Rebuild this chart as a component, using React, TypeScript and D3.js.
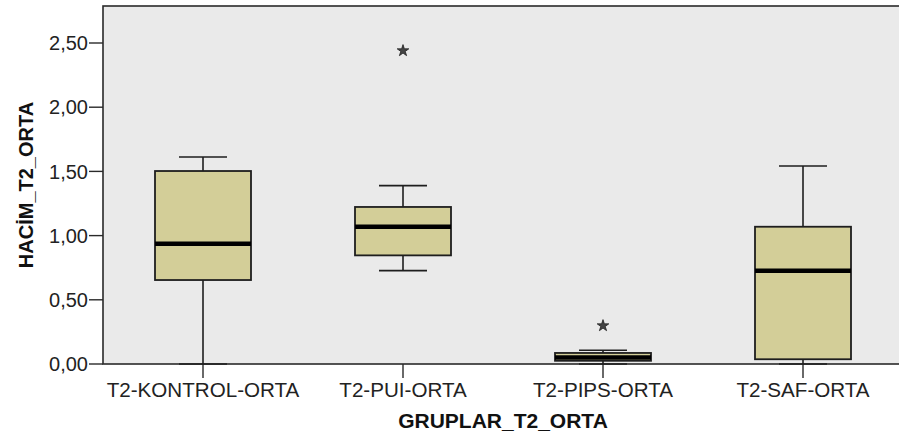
import React from "react";
import * as d3 from "d3";

// Box-plot summary per group (HACİM_T2_ORTA by GRUPLAR_T2_ORTA)
const categories = ["T2-KONTROL-ORTA", "T2-PUI-ORTA", "T2-PIPS-ORTA", "T2-SAF-ORTA"];
const whiskerLow = [0.0, 0.727, 0.0, 0.0];
const q1 = [0.654, 0.846, 0.025, 0.037];
const median = [0.937, 1.069, 0.05, 0.727];
const q3 = [1.503, 1.223, 0.086, 1.069];
const whiskerHigh = [1.612, 1.389, 0.107, 1.542];
// extreme values (drawn as stars)
const extremeGroup = ["T2-PUI-ORTA", "T2-PIPS-ORTA"];
const extremeValue = [2.44, 0.298];

const yTicks = [0, 0.5, 1.0, 1.5, 2.0, 2.5];
const yTitle = "HACİM_T2_ORTA";
const xTitle = "GRUPLAR_T2_ORTA";

const W = 899;
const H = 434;
const margin = { left: 103, top: 6, right: 903, bottom: 364 };

export default function App() {
  const x = d3
    .scaleBand<string>()
    .domain(categories)
    .range([margin.left, margin.right])
    .paddingInner(0)
    .paddingOuter(0);
  const y = d3.scaleLinear().domain([0, 2.5]).range([margin.bottom, 43]);
  const fmt = (v: number) => d3.format(".2f")(v).replace(".", ",");
  const boxW = x.bandwidth() * 0.48;
  const capW = boxW / 2;
  const star = d3.symbol().type(d3.symbolStar).size(42)();
  const font = "'Liberation Sans', Arial, sans-serif";

  return (
    <svg
      width={W}
      height={H}
      style={{ position: "absolute", left: 0, top: 0, background: "#fff" }}
      fontFamily={font}
    >
      <rect
        x={margin.left}
        y={margin.top}
        width={margin.right - margin.left}
        height={margin.bottom - margin.top}
        fill="#EAEAEA"
        stroke="#2a2a2a"
        strokeWidth={1.6}
      />
      {/* y axis ticks and labels */}
      {yTicks.map((t) => (
        <g key={t}>
          <line x1={margin.left - 14} x2={margin.left} y1={y(t)} y2={y(t)} stroke="#2a2a2a" strokeWidth={1.4} />
          <text x={margin.left - 15} y={y(t)} dy="0.36em" textAnchor="end" fontSize={20} fill="#222">
            {fmt(t)}
          </text>
        </g>
      ))}
      {/* x axis ticks and labels */}
      {categories.map((c) => {
        const cx = x(c)! + x.bandwidth() / 2;
        return (
          <g key={c}>
            <line x1={cx} x2={cx} y1={margin.bottom} y2={margin.bottom + 14} stroke="#2a2a2a" strokeWidth={1.4} />
            <text x={cx} y={397} textAnchor="middle" fontSize={20.6} fill="#222">
              {c}
            </text>
          </g>
        );
      })}
      {/* boxes */}
      {categories.map((c, i) => {
        const cx = x(c)! + x.bandwidth() / 2;
        return (
          <g key={c} stroke="#1e1e1e">
            <line x1={cx} x2={cx} y1={y(whiskerHigh[i])} y2={y(q3[i])} strokeWidth={1.6} />
            <line x1={cx} x2={cx} y1={y(q1[i])} y2={y(whiskerLow[i])} strokeWidth={1.6} />
            <line x1={cx - capW / 2} x2={cx + capW / 2} y1={y(whiskerHigh[i])} y2={y(whiskerHigh[i])} strokeWidth={1.6} />
            <line x1={cx - capW / 2} x2={cx + capW / 2} y1={y(whiskerLow[i])} y2={y(whiskerLow[i])} strokeWidth={1.6} />
            <rect
              x={cx - boxW / 2}
              y={y(q3[i])}
              width={boxW}
              height={y(q1[i]) - y(q3[i])}
              fill="#D3CE98"
              strokeWidth={1.8}
            />
            <line x1={cx - boxW / 2} x2={cx + boxW / 2} y1={y(median[i])} y2={y(median[i])} stroke="#000" strokeWidth={4.5} />
          </g>
        );
      })}
      {/* extreme values */}
      {extremeGroup.map((g, i) => (
        <path
          key={g}
          d={star!}
          transform={`translate(${x(g)! + x.bandwidth() / 2},${y(extremeValue[i])})`}
          fill="#444"
          stroke="#222"
          strokeWidth={0.8}
        />
      ))}
      {/* axis titles */}
      <text x={503} y={428} textAnchor="middle" fontSize={21} fontWeight="bold" fill="#111">
        {xTitle}
      </text>
      <text
        transform={`translate(33,${(margin.top + margin.bottom) / 2}) rotate(-90)`}
        textAnchor="middle"
        fontSize={20}
        fontWeight="bold"
        fill="#111"
      >
        {yTitle}
      </text>
    </svg>
  );
}
